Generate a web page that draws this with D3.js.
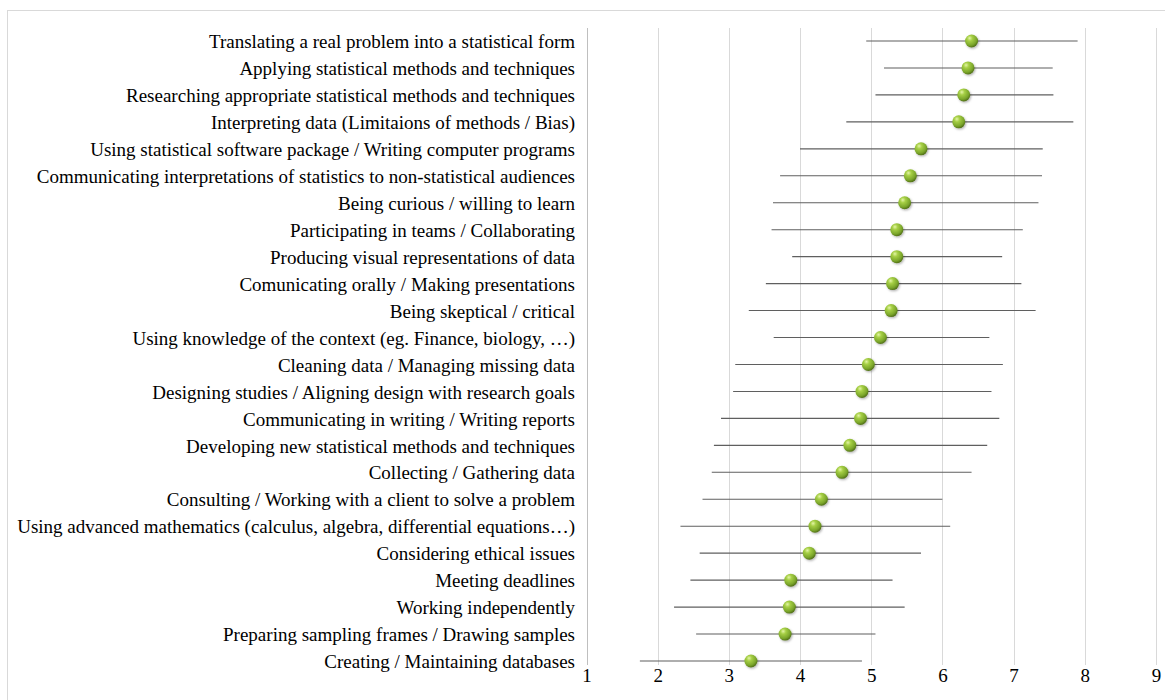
<!DOCTYPE html>
<html>
<head>
<meta charset="utf-8">
<script src="https://cdn.jsdelivr.net/npm/d3@7"></script>
<style>
  html, body { margin: 0; padding: 0; background: #fff; }
  svg { display: block; }
</style>
</head>
<body>
<svg id="chart" width="1165" height="700"></svg>
<script>
const categories = [
  "Translating a real problem into a statistical form",
  "Applying statistical methods and techniques",
  "Researching appropriate statistical methods and techniques",
  "Interpreting data (Limitaions of methods / Bias)",
  "Using statistical software package / Writing computer programs",
  "Communicating interpretations of statistics to non-statistical audiences",
  "Being curious / willing to learn",
  "Participating in teams / Collaborating",
  "Producing visual representations of data",
  "Comunicating orally / Making presentations",
  "Being skeptical / critical",
  "Using knowledge of the context (eg. Finance, biology, \u2026)",
  "Cleaning data / Managing missing data",
  "Designing studies / Aligning design with research goals",
  "Communicating in writing / Writing reports",
  "Developing new statistical methods and techniques",
  "Collecting / Gathering data",
  "Consulting / Working with a client to solve a problem",
  "Using advanced mathematics (calculus, algebra, differential equations\u2026)",
  "Considering ethical issues",
  "Meeting deadlines",
  "Working independently",
  "Preparing sampling frames / Drawing samples",
  "Creating / Maintaining databases"
];
const means = [6.41, 6.36, 6.30, 6.23, 5.70, 5.55, 5.47, 5.36, 5.36, 5.30, 5.28, 5.13,
               4.96, 4.87, 4.85, 4.70, 4.59, 4.30, 4.21, 4.13, 3.87, 3.85, 3.79, 3.31];
const lows  = [4.93, 5.18, 5.06, 4.65, 4.00, 3.72, 3.62, 3.60, 3.89, 3.52, 3.28, 3.63,
               3.09, 3.06, 2.89, 2.79, 2.76, 2.63, 2.32, 2.59, 2.46, 2.23, 2.54, 1.75];
const highs = [7.90, 7.55, 7.56, 7.84, 7.41, 7.40, 7.35, 7.13, 6.84, 7.11, 7.31, 6.66,
               6.85, 6.69, 6.80, 6.63, 6.41, 6.00, 6.11, 5.70, 5.30, 5.47, 5.06, 4.87];
const xTicks = [1, 2, 3, 4, 5, 6, 7, 8, 9];

const svg = d3.select("#chart");
const font = "'Liberation Serif', 'Times New Roman', serif";

// outer frame
svg.append("rect")
  .attr("x", 7.5).attr("y", 10.5)
  .attr("width", 1200).attr("height", 720)
  .attr("fill", "none").attr("stroke", "#d9d9d9").attr("stroke-width", 1);

const x = d3.scaleLinear().domain([1, 9]).range([586.5, 1155.9]);
const y = d3.scaleLinear().domain([0, categories.length - 1]).range([41, 661]);
const plotTop = 28, plotBottom = 665;

const defs = svg.append("defs");
const grad = defs.append("radialGradient").attr("id", "ball")
  .attr("cx", "38%").attr("cy", "32%").attr("r", "70%").attr("fx", "35%").attr("fy", "28%");
grad.append("stop").attr("offset", "0%").attr("stop-color", "#e4f5a6");
grad.append("stop").attr("offset", "30%").attr("stop-color", "#a6cf45");
grad.append("stop").attr("offset", "75%").attr("stop-color", "#7aa52a");
grad.append("stop").attr("offset", "100%").attr("stop-color", "#4f6d17");
const filt = defs.append("filter").attr("id", "shadow").attr("x", "-50%").attr("y", "-50%").attr("width", "200%").attr("height", "200%");
filt.append("feDropShadow").attr("dx", 1).attr("dy", 1.2).attr("stdDeviation", 1).attr("flood-color", "#000").attr("flood-opacity", 0.3);

// gridlines
svg.append("g").selectAll("line").data(xTicks.slice(1)).join("line")
  .attr("x1", d => Math.round(x(d)) + 0.5).attr("x2", d => Math.round(x(d)) + 0.5)
  .attr("y1", plotTop).attr("y2", plotBottom)
  .attr("stroke", "#d9d9d9").attr("stroke-width", 1);

// vertical axis line at x=1
svg.append("line")
  .attr("x1", Math.round(x(1)) + 0.5).attr("x2", Math.round(x(1)) + 0.5)
  .attr("y1", plotTop).attr("y2", plotBottom)
  .attr("stroke", "#bfbfbf").attr("stroke-width", 1);

// x axis tick labels
const xAxis = d3.axisBottom(x).tickValues(xTicks).tickSize(0).tickPadding(0).tickFormat(d3.format("d"));
const gx = svg.append("g").attr("transform", `translate(0, ${plotBottom})`).call(xAxis);
gx.select(".domain").remove();
gx.selectAll("text")
  .attr("dy", "0").attr("y", 17)
  .attr("font-family", font).attr("font-size", 19).attr("fill", "#000");

// category labels
const yAxis = d3.axisLeft(y).tickValues(d3.range(categories.length)).tickSize(0).tickPadding(0)
  .tickFormat(i => categories[i]);
const gy = svg.append("g").attr("transform", "translate(575, 0)").call(yAxis);
gy.select(".domain").remove();
gy.selectAll("text")
  .attr("dy", "0.35em")
  .attr("font-family", font).attr("font-size", 19).attr("fill", "#000");

// error bars
svg.append("g").selectAll("line").data(categories).join("line")
  .attr("x1", (d, i) => x(lows[i])).attr("x2", (d, i) => x(highs[i]))
  .attr("y1", (d, i) => y(i)).attr("y2", (d, i) => y(i))
  .attr("stroke", "#5f5f5f").attr("stroke-width", 1.1);

// markers
svg.append("g").selectAll("circle").data(categories).join("circle")
  .attr("cx", (d, i) => x(means[i])).attr("cy", (d, i) => y(i))
  .attr("r", 6.5)
  .attr("fill", "url(#ball)")
  .attr("filter", "url(#shadow)");
</script>
</body>
</html>
